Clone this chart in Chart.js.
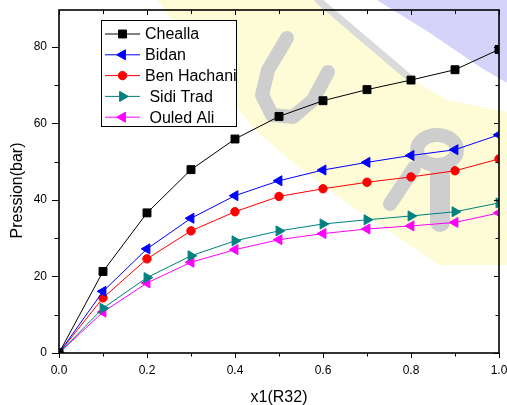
<!DOCTYPE html>
<html>
<head>
<meta charset="utf-8">
<title>Pression</title>
<script src="https://cdn.jsdelivr.net/npm/chart.js@4.4.0/dist/chart.umd.min.js"></script>
<style>
  html, body { margin: 0; padding: 0; background: #fff; }
</style>
</head>
<body>
<canvas id="pressionChart" width="507" height="405"></canvas>
<script>
// mole fraction of R32
const fractions = [0, 0.1, 0.2, 0.3, 0.4, 0.5, 0.6, 0.7, 0.8, 0.9, 1.0];

// pressure (bar) per site
const chealla    = [0, 21.3, 36.6, 47.9, 55.9, 61.8, 65.9, 68.8, 71.3, 74.0, 79.3];
const bidan      = [0, 16.1, 27.2, 35.2, 41.1, 45.0, 47.8, 49.8, 51.6, 53.1, 57.0];
const benHachani = [0, 14.4, 24.6, 31.9, 36.9, 40.9, 42.9, 44.6, 46.0, 47.6, 50.7];
const sidiTrad   = [0, 11.7, 19.7, 25.4, 29.3, 31.9, 33.7, 34.8, 35.8, 36.9, 39.2];
const ouledAli   = [0, 10.7, 18.3, 23.7, 27.0, 29.6, 31.2, 32.4, 33.2, 34.1, 36.6];

const seriesNames = ['Chealla', 'Bidan', 'Ben Hachani', ' Sidi Trad', ' Ouled Ali'];
const xTicks = [0, 0.2, 0.4, 0.6, 0.8, 1.0];
const yTicks = [0, 20, 40, 60, 80];

const FONT = '"Liberation Sans", Arial, Helvetica, sans-serif';

function points(values) {
  return fractions.map((x, i) => ({ x: x, y: values[i] }));
}

function series(label, values, color, style, radius, rotation) {
  return {
    label: label,
    data: points(values),
    borderColor: color,
    backgroundColor: color,
    pointBackgroundColor: color,
    pointBorderColor: color,
    borderWidth: 1,
    pointBorderWidth: 1,
    pointStyle: style,
    pointRadius: radius,
    pointRotation: rotation,
    pointHoverRadius: radius,
    tension: 0,
    clip: 0
  };
}

// faint backdrop, axis box with inner/outer ticks, legend and axis titles
const framePlugin = {
  id: 'framePlugin',
  beforeDraw(chart) {
    const ctx = chart.ctx;
    ctx.save();
    ctx.fillStyle = '#ffffff';
    ctx.fillRect(0, 0, chart.width, chart.height);

    ctx.fillStyle = '#fdfcd6';
    ctx.beginPath();
    [[157, 0], [322, 0], [410, 78], [447, 100], [507, 112], [507, 265],
     [440, 265], [350, 205], [290, 160], [255, 130], [215, 80]]
      .forEach((p, i) => i ? ctx.lineTo(p[0], p[1]) : ctx.moveTo(p[0], p[1]));
    ctx.closePath();
    ctx.fill();

    ctx.fillStyle = '#d5d3fa';
    ctx.beginPath();
    [[377, 0], [507, 0], [507, 83], [480, 67], [430, 33]]
      .forEach((p, i) => i ? ctx.lineTo(p[0], p[1]) : ctx.moveTo(p[0], p[1]));
    ctx.closePath();
    ctx.fill();

    ctx.strokeStyle = '#dadada';
    ctx.lineCap = 'round';
    ctx.lineJoin = 'round';
    ctx.lineWidth = 7;
    ctx.beginPath();
    ctx.moveTo(318, 0);
    ctx.lineTo(412, 80);
    ctx.stroke();

    ctx.strokeStyle = '#cecece';
    ctx.lineWidth = 14;
    ctx.beginPath();
    ctx.moveTo(287, 38);
    ctx.lineTo(268, 70);
    ctx.lineTo(262, 95);
    ctx.lineTo(272, 115);
    ctx.lineTo(293, 117);
    ctx.lineTo(313, 100);
    ctx.lineTo(328, 72);
    ctx.stroke();

    ctx.beginPath();
    ctx.ellipse(437, 150, 20, 15, 0, 0, Math.PI * 2);
    ctx.stroke();
    ctx.beginPath();
    ctx.moveTo(414, 168);
    ctx.lineTo(390, 204);
    ctx.stroke();
    ctx.lineWidth = 20;
    ctx.beginPath();
    ctx.moveTo(440, 172);
    ctx.lineTo(440, 222);
    ctx.stroke();
    ctx.restore();
  },
  afterDraw(chart) {
    const ctx = chart.ctx;
    const a = chart.chartArea;
    const xs = chart.scales.x;
    const ys = chart.scales.y;
    ctx.save();

    // axis box
    ctx.strokeStyle = '#000';
    ctx.lineWidth = 1.6;
    ctx.strokeRect(a.left, a.top, a.right - a.left, a.bottom - a.top);

    ctx.lineWidth = 1;
    ctx.beginPath();
    for (let i = 0; i <= 10; i++) {
      const px = Math.round(xs.getPixelForValue(i / 10)) + 0.5;
      const major = i % 2 === 0;
      ctx.moveTo(px, a.bottom);
      ctx.lineTo(px, a.bottom + (major ? 5 : 3.5));
      ctx.moveTo(px, a.top);
      ctx.lineTo(px, a.top + (major ? 5 : 4));
    }
    for (let v = 0; v <= 80; v += 10) {
      const py = Math.round(ys.getPixelForValue(v)) + 0.5;
      const major = v % 20 === 0;
      ctx.moveTo(a.left, py);
      ctx.lineTo(a.left - (major ? 7 : 4.5), py);
      ctx.moveTo(a.right, py);
      ctx.lineTo(a.right - (major ? 5 : 3.5), py);
    }
    ctx.stroke();

    // legend
    const lx = 101.5, ly = 20.5, lw = 135, lh = 106;
    ctx.fillStyle = '#fff';
    ctx.fillRect(lx, ly, lw, lh);
    ctx.strokeStyle = '#000';
    ctx.lineWidth = 1;
    ctx.strokeRect(lx, ly, lw, lh);
    ctx.font = '16px ' + FONT;
    ctx.textBaseline = 'middle';
    ctx.textAlign = 'left';
    chart.data.datasets.forEach((ds, i) => {
      const ry = 34 + i * 20.8;
      ctx.strokeStyle = ds.borderColor;
      ctx.lineWidth = 1;
      ctx.beginPath();
      ctx.moveTo(105, ry);
      ctx.lineTo(140, ry);
      ctx.stroke();
      ctx.fillStyle = ds.pointBackgroundColor;
      Chart.helpers.drawPoint(ctx, {
        pointStyle: ds.pointStyle,
        radius: ds.pointRadius,
        rotation: ds.pointRotation || 0,
        borderWidth: 1
      }, 122.5, ry);
      ctx.fillStyle = '#000';
      ctx.fillText(ds.label, 145, ry + 1);
    });

    // axis titles
    ctx.fillStyle = '#000';
    ctx.font = '16px ' + FONT;
    ctx.textAlign = 'center';
    ctx.textBaseline = 'middle';
    ctx.fillText('x1(R32)', (a.left + a.right) / 2, 398);
    ctx.translate(17.5, 190.5);
    ctx.rotate(-Math.PI / 2);
    ctx.fillText('Pression(bar)', 0, 0);
    ctx.restore();
  }
};

new Chart(document.getElementById('pressionChart'), {
  type: 'line',
  data: {
    datasets: [
      series(seriesNames[0], chealla, '#000000', 'rect', 5.6, 0),
      series(seriesNames[1], bidan, '#0000ff', 'triangle', 5.8, -90),
      series(seriesNames[2], benHachani, '#ff0000', 'circle', 4.2, 0),
      series(seriesNames[3], sidiTrad, '#008080', 'triangle', 5.8, 90),
      series(seriesNames[4], ouledAli, '#ff00ff', 'triangle', 5.8, -90)
    ]
  },
  options: {
    responsive: false,
    animation: false,
    devicePixelRatio: 1,
    layout: { padding: { top: 10, right: 8, left: 0, bottom: 0 } },
    plugins: {
      legend: { display: false },
      tooltip: { enabled: false }
    },
    scales: {
      x: {
        type: 'linear',
        min: 0,
        max: 1,
        grid: { display: false, drawTicks: false },
        border: { display: false },
        afterBuildTicks(scale) {
          scale.ticks = xTicks.map(v => ({ value: v }));
        },
        afterFit(scale) {
          scale.height = 52;
          scale.paddingLeft = 0;
          scale.paddingRight = 0;
        },
        ticks: {
          padding: 10,
          color: '#000',
          font: { family: FONT, size: 12 },
          callback: v => Number(v).toFixed(1)
        }
      },
      y: {
        type: 'linear',
        min: 0,
        max: 89.6,
        grid: { display: false, drawTicks: false },
        border: { display: false },
        afterBuildTicks(scale) {
          scale.ticks = yTicks.map(v => ({ value: v }));
        },
        afterFit(scale) {
          scale.width = 59;
          scale.paddingTop = 0;
          scale.paddingBottom = 0;
        },
        ticks: {
          padding: 12,
          color: '#000',
          font: { family: FONT, size: 12 },
          callback: v => String(v)
        }
      }
    }
  },
  plugins: [framePlugin]
});
</script>
</body>
</html>
